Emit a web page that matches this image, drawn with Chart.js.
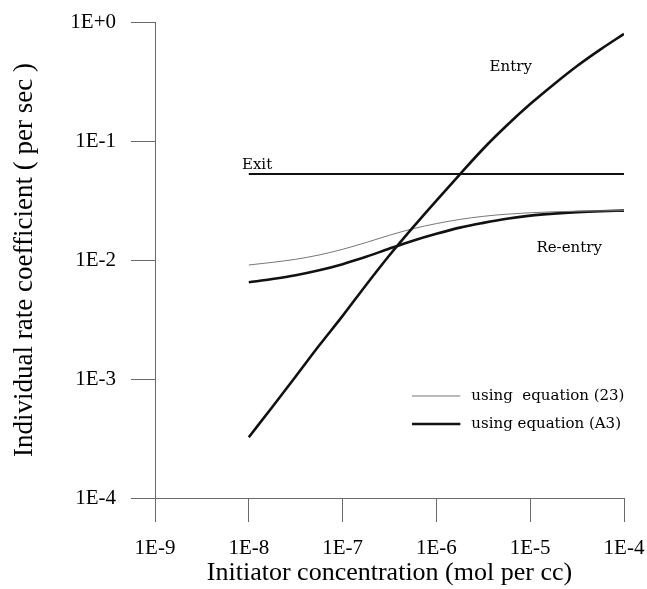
<!DOCTYPE html>
<html>
<head>
<meta charset="utf-8">
<script src="https://cdn.jsdelivr.net/npm/chart.js@4.4.1/dist/chart.umd.min.js"></script>
<style>
  html, body { margin: 0; padding: 0; background: #fff; }
  #wrap { width: 647px; height: 589px; }
</style>
</head>
<body>
<div id="wrap"><canvas id="chart" width="647" height="589"></canvas></div>
<script>
// 농도 (x) - 1/4 decade 간격
const concentration = [
    1e-8, 1.78e-8, 3.16e-8, 5.62e-8,
    1e-7, 1.78e-7, 3.16e-7, 5.62e-7,
    1e-6, 1.78e-6, 3.16e-6, 5.62e-6,
    1e-5, 1.78e-5, 3.16e-5, 5.62e-5,
    1e-4
];

// 계수 값
const exitRate = [
    0.0528, 0.0528, 0.0528, 0.0528, 0.0528, 0.0528, 0.0528, 0.0528, 0.0528,
    0.0528, 0.0528, 0.0528, 0.0528, 0.0528, 0.0528, 0.0528, 0.0528
];
const entryRate = [
    3.24e-4, 5.82e-4, 1.05e-3, 1.91e-3,
    3.39e-3, 6.17e-3, 0.01096, 0.0188,
    0.0316, 0.0525, 0.0861, 0.1349,
    0.2042, 0.2985, 0.4266, 0.5888,
    0.7943
];
const reentryEq23 = [
    0.00908, 0.00955, 0.01014, 0.01102,
    0.01230, 0.01403, 0.01614, 0.01832,
    0.02023, 0.02193, 0.02328, 0.02427,
    0.02495, 0.02541, 0.02570, 0.02588,
    0.02600
];
const reentryEqA3 = [
    0.00650, 0.00692, 0.00745, 0.00820,
    0.00923, 0.01064, 0.01247, 0.01452,
    0.01660, 0.01871, 0.02051, 0.02223,
    0.02360, 0.02455, 0.02523, 0.02570,
    0.02600
];

// 축 눈금
const xTickValues = [1e-9, 1e-8, 1e-7, 1e-6, 1e-5, 1e-4];
const xTickLabels = ['1E-9', '1E-8', '1E-7', '1E-6', '1E-5', '1E-4'];
const yTickValues = [1e-4, 1e-3, 1e-2, 1e-1, 1];
const yTickLabels = ['1E-4', '1E-3', '1E-2', '1E-1', '1E+0'];

// 곡선 옆 글자 (데이터 좌표)
const curveLabels = [
    { text: 'Entry', x: 6.2e-6, y: 0.42, align: 'center' },
    { text: 'Exit', x: 8.45e-9, y: 0.0628, align: 'left' },
    { text: 'Re-entry', x: 2.6e-5, y: 0.0126, align: 'center' }
];
const legendItems = ['using  equation (23)', 'using equation (A3)'];
const legendY = [7.2e-4, 4.19e-4];

const toPoints = (ys) => ys.map((y, i) => ({ x: concentration[i], y: y }));

const axisColor = '#6a6a6a';
const serif = "'Liberation Serif', 'Times New Roman', serif";
const labelFont = "15px 'DejaVu Serif', serif";

// 글자와 범례 그리기
const annotationPlugin = {
    id: 'annotations',
    afterDatasetsDraw(chart) {
        const ctx = chart.ctx;
        const xs = chart.scales.x;
        const ys = chart.scales.y;
        ctx.save();
        ctx.fillStyle = '#000';
        ctx.font = labelFont;
        ctx.textBaseline = 'middle';
        curveLabels.forEach(l => {
            ctx.textAlign = l.align;
            ctx.fillText(l.text, xs.getPixelForValue(l.x), ys.getPixelForValue(l.y));
        });

        // 범례
        const x0 = xs.getPixelForValue(5.5e-7);
        const x1 = xs.getPixelForValue(1.8e-6);
        const styles = [
            { color: '#777', width: 1 },
            { color: '#111', width: 2.6 }
        ];
        legendItems.forEach((text, i) => {
            const y = ys.getPixelForValue(legendY[i]);
            ctx.strokeStyle = styles[i].color;
            ctx.lineWidth = styles[i].width;
            ctx.beginPath();
            ctx.moveTo(x0, y);
            ctx.lineTo(x1, y);
            ctx.stroke();
            ctx.textAlign = 'left';
            ctx.fillText(text, x1 + 11, y);
        });
        ctx.restore();
    }
};

const ctx = document.getElementById('chart').getContext('2d');

new Chart(ctx, {
    type: 'line',
    data: {
        datasets: [
            {
                label: 'Exit',
                data: toPoints(exitRate),
                borderColor: '#111',
                borderWidth: 2.2
            },
            {
                label: 'Entry',
                data: toPoints(entryRate),
                borderColor: '#111',
                borderWidth: 2.6
            },
            {
                label: 'Re-entry (23)',
                data: toPoints(reentryEq23),
                borderColor: '#777',
                borderWidth: 1
            },
            {
                label: 'Re-entry (A3)',
                data: toPoints(reentryEqA3),
                borderColor: '#111',
                borderWidth: 2.6
            }
        ]
    },
    options: {
        responsive: false,
        animation: false,
        devicePixelRatio: 1,
        layout: { padding: { top: 22, right: 23, left: 0, bottom: 0 } },
        elements: {
            point: { radius: 0 },
            line: { cubicInterpolationMode: 'monotone', fill: false }
        },
        plugins: {
            legend: { display: false },
            tooltip: { enabled: false }
        },
        scales: {
            x: {
                type: 'logarithmic',
                min: 1e-9,
                max: 1e-4,
                afterBuildTicks: (scale) => { scale.ticks = xTickValues.map(v => ({ value: v })); },
                afterFit: (scale) => {
                    scale.height = 91;
                    scale.paddingLeft = 0;   // 라벨 여백은 layout padding으로 처리
                    scale.paddingRight = 0;
                },
                border: { display: true, color: axisColor, width: 1 },
                grid: { drawOnChartArea: false, drawTicks: true, tickLength: 24, color: axisColor },
                ticks: {
                    autoSkip: false,
                    maxRotation: 0,
                    padding: 14,
                    color: '#000',
                    font: { family: serif, size: 21 },
                    callback: (value, index) => xTickLabels[index]
                },
                title: {
                    display: true,
                    text: 'Initiator concentration (mol per cc)',
                    color: '#000',
                    font: { family: serif, size: 26 },
                    padding: { top: 0, bottom: 0 }
                }
            },
            y: {
                type: 'logarithmic',
                min: 1e-4,
                max: 1,
                afterBuildTicks: (scale) => { scale.ticks = yTickValues.map(v => ({ value: v })); },
                afterFit: (scale) => {
                    scale.width = 155;
                    scale.paddingTop = 0;
                    scale.paddingBottom = 0;
                },
                border: { display: true, color: axisColor, width: 1 },
                grid: { drawOnChartArea: false, drawTicks: true, tickLength: 24, color: axisColor },
                ticks: {
                    autoSkip: false,
                    padding: 15,
                    color: '#000',
                    font: { family: serif, size: 21 },
                    callback: (value, index) => yTickLabels[index]
                },
                title: {
                    display: true,
                    text: 'Individual rate coefficient ( per sec )',
                    color: '#000',
                    font: { family: serif, size: 27 },
                    padding: { top: 9, bottom: 0 }
                }
            }
        }
    },
    plugins: [annotationPlugin]
});
</script>
</body>
</html>
